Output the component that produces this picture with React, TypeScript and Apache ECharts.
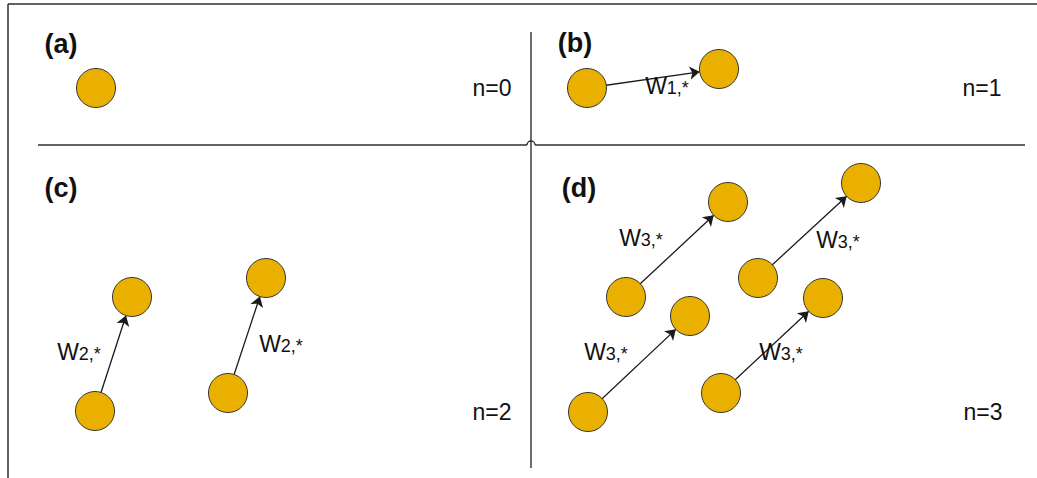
import React, { useEffect, useRef } from "react";
import * as echarts from "echarts";

// Node centres (diagram units = pixels of the 1037x478 canvas)
const nodeX = [96, 587, 719, 95, 132, 228, 266, 626, 728, 758, 861, 588, 690, 721, 823];
const nodeY = [88, 88, 69, 411, 297, 393, 278, 297, 202, 278, 183, 412, 316, 393, 298];

// Directed weights (source -> target node index)
const linkSource = [1, 3, 5, 7, 9, 11, 13];
const linkTarget = [2, 4, 6, 8, 10, 12, 14];

// Weight labels W_{n,*}
const weightIndex = ["1", "2", "2", "3", "3", "3", "3"];
const weightX = [667, 79, 281, 641, 838, 606, 781];
const weightY = [86, 352, 344, 238, 240, 352, 352];

// Panel tags
const panelNames = ["(a)", "(b)", "(c)", "(d)"];
const panelX = [61, 575, 61, 579];
const panelY = [44, 43, 188, 188];

// Step labels
const stepNames = ["n=0", "n=1", "n=2", "n=3"];
const stepX = [492, 982, 492, 983];
const stepY = [88, 88, 412, 412];

const FONT = "'Liberation Sans', Arial, Helvetica, sans-serif";
const INK = "#111111";
const RULE = "#2e2e2e";

export default function App() {
  const ref = useRef<HTMLDivElement | null>(null);

  useEffect(() => {
    if (!ref.current) return;
    const chart = echarts.init(ref.current, null, { renderer: "svg" });

    const nodes = nodeX.map((x, i) => ({ value: [x, nodeY[i]] }));
    const links = linkSource.map((s, i) => ({ source: s, target: linkTarget[i] }));

    const textBase = { color: INK, textBorderWidth: 0, textBorderColor: "transparent", opacity: 1 };

    const option: any = {
      animation: false,
      backgroundColor: "#ffffff",
      grid: { left: 0, right: 0, top: 0, bottom: 0 },
      xAxis: { type: "value", min: 0, max: 1037, show: false },
      yAxis: { type: "value", min: 0, max: 478, inverse: true, show: false },
      graphic: [
        { type: "line", shape: { x1: 8, y1: 4, x2: 1037, y2: 4 }, style: { stroke: RULE, lineWidth: 1.5 } },
        { type: "line", shape: { x1: 8, y1: 4, x2: 8, y2: 478 }, style: { stroke: RULE, lineWidth: 1.5 } },
        { type: "line", shape: { x1: 38, y1: 145, x2: 527, y2: 145 }, style: { stroke: RULE, lineWidth: 1.4 } },
        { type: "line", shape: { x1: 535, y1: 145, x2: 1025, y2: 145 }, style: { stroke: RULE, lineWidth: 1.4 } },
        {
          type: "arc",
          shape: { cx: 531, cy: 145, r: 4, startAngle: Math.PI, endAngle: Math.PI * 2, clockwise: true },
          style: { stroke: RULE, lineWidth: 1.4, fill: "none" },
        },
        { type: "line", shape: { x1: 531, y1: 32, x2: 531, y2: 468 }, style: { stroke: RULE, lineWidth: 1.4 } },
      ],
      series: [
        {
          type: "graph",
          coordinateSystem: "cartesian2d",
          symbol: "circle",
          symbolSize: 39,
          data: nodes,
          links,
          edgeSymbol: ["none", "arrow"],
          edgeSymbolSize: [0, 10],
          lineStyle: { color: "#1a1a1a", width: 1.3, opacity: 1, curveness: 0 },
          itemStyle: { color: "#E9B000", borderColor: "#333333", borderWidth: 1 },
          label: { show: false },
          emphasis: { disabled: true },
          silent: true,
          z: 2,
        },
        {
          type: "scatter",
          symbolSize: 1,
          itemStyle: { color: "rgba(0,0,0,0)" },
          data: weightX.map((x, i) => ({ value: [x, weightY[i]], name: weightIndex[i] })),
          label: {
            show: true,
            position: "inside",
            ...textBase,
            formatter: (p: any) => `{w|W}{s|${p.name},*}`,
            rich: {
              w: { fontSize: 23, fontFamily: FONT, color: INK, verticalAlign: "bottom", textBorderWidth: 0 },
              s: { fontSize: 18, fontFamily: FONT, color: INK, verticalAlign: "bottom", textBorderWidth: 0, padding: [0, 0, 1, 0] },
            },
          },
          silent: true,
          z: 3,
        },
        {
          type: "scatter",
          symbolSize: 1,
          itemStyle: { color: "rgba(0,0,0,0)" },
          data: panelX.map((x, i) => ({ value: [x, panelY[i]], name: panelNames[i] })),
          label: {
            show: true,
            position: "inside",
            ...textBase,
            formatter: (p: any) => p.name,
            fontSize: 27,
            fontWeight: "bold",
            fontFamily: FONT,
          },
          silent: true,
          z: 3,
        },
        {
          type: "scatter",
          symbolSize: 1,
          itemStyle: { color: "rgba(0,0,0,0)" },
          data: stepX.map((x, i) => ({ value: [x, stepY[i]], name: stepNames[i] })),
          label: {
            show: true,
            position: "inside",
            ...textBase,
            formatter: (p: any) => p.name,
            fontSize: 23,
            fontFamily: FONT,
          },
          silent: true,
          z: 3,
        },
      ],
    };

    chart.setOption(option);
    return () => chart.dispose();
  }, []);

  return (
    <div
      ref={ref}
      style={{ position: "fixed", left: 0, top: 0, width: 1037, height: 478, background: "#fff" }}
    />
  );
}
